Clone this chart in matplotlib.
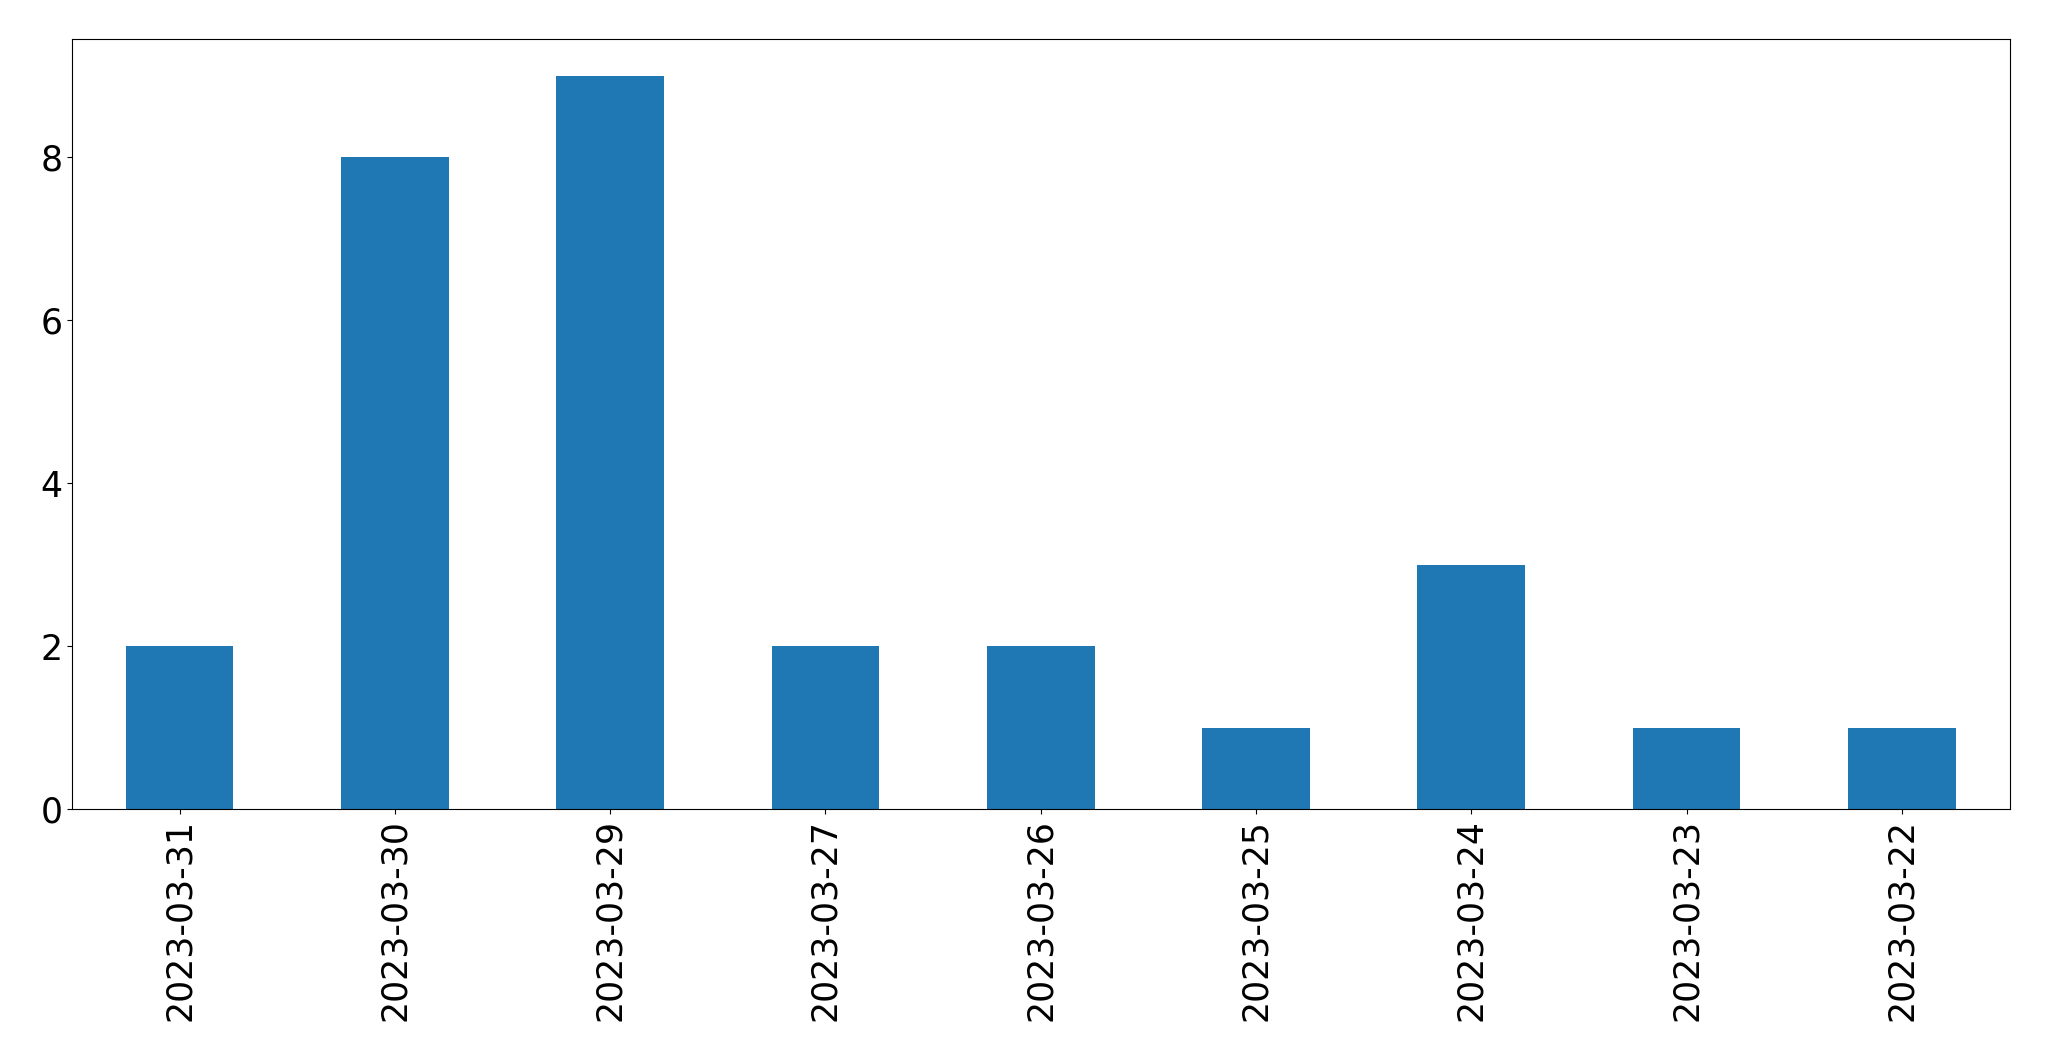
import matplotlib
matplotlib.use("Agg")
import matplotlib.pyplot as plt

dates = ["2023-03-31", "2023-03-30", "2023-03-29", "2023-03-27", "2023-03-26",
         "2023-03-25", "2023-03-24", "2023-03-23", "2023-03-22"]
counts = [2, 8, 9, 2, 2, 1, 3, 1, 1]

fig = plt.figure(figsize=(20.49, 10.61), dpi=100)
ax = fig.add_axes([72/2049, 1 - 809/1061, (2009.5-72)/2049, (809-39)/1061])
x = list(range(len(dates)))
ax.bar(x, counts, width=0.5, color="#1f77b4")
ax.set_xlim(-0.5, len(dates) - 0.5)
ax.set_xticks(x)
ax.set_xticklabels(dates, rotation=90)
ax.tick_params(axis="both", labelsize=25)
fig.savefig("out.png", dpi=100)
